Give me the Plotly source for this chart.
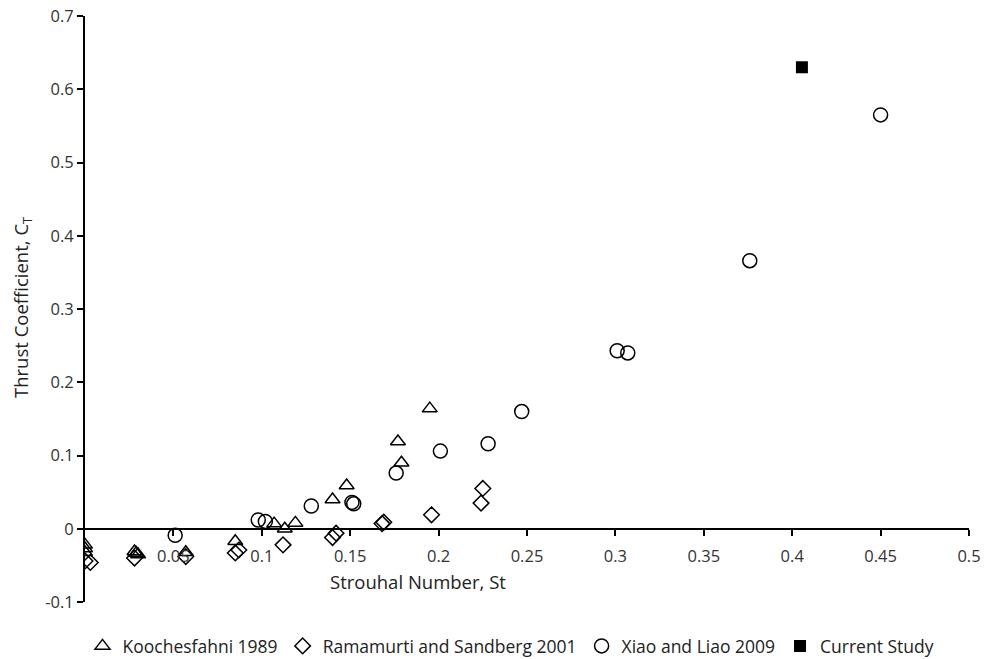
import plotly.graph_objects as go

# Data
koch_st = [0.0, 0.0, 0.0, 0.028, 0.029, 0.030, 0.057, 0.085, 0.107, 0.113, 0.119, 0.140, 0.148, 0.177, 0.179, 0.195]
koch_ct = [-0.022, -0.027, -0.032, -0.031, -0.033, -0.035, -0.032, -0.017, 0.007, 0.0, 0.008, 0.040, 0.059, 0.119, 0.090, 0.164]

rama_st = [0.0, 0.003, 0.028, 0.057, 0.085, 0.087, 0.112, 0.140, 0.142, 0.168, 0.169, 0.196, 0.224, 0.225]
rama_ct = [-0.044, -0.046, -0.040, -0.038, -0.033, -0.029, -0.022, -0.012, -0.006, 0.007, 0.009, 0.019, 0.035, 0.055]

xiao_st = [0.051, 0.098, 0.102, 0.128, 0.151, 0.152, 0.176, 0.201, 0.228, 0.247, 0.301, 0.307, 0.376, 0.450]
xiao_ct = [-0.009, 0.012, 0.010, 0.031, 0.036, 0.034, 0.076, 0.106, 0.116, 0.160, 0.243, 0.240, 0.366, 0.565]

current_st = [0.4055]
current_ct = [0.630]

x_tickvals = [0.05, 0.1, 0.15, 0.2, 0.25, 0.3, 0.35, 0.4, 0.45, 0.5]
x_ticktext = ["0.05", "0.1", "0.15", "0.2", "0.25", "0.3", "0.35", "0.4", "0.45", "0.5"]
y_tickvals = [-0.1, 0, 0.1, 0.2, 0.3, 0.4, 0.5, 0.6, 0.7]
y_ticktext = ["-0.1", "0", "0.1", "0.2", "0.3", "0.4", "0.5", "0.6", "0.7"]

FONT = "Open Sans"
W, H = 986, 659
ML, MR, MT, MB = 85, 17, 16, 57
pw, ph = W - ML - MR, H - MT - MB


def px_to_paper(xp, yp):
    return (xp - ML) / pw, (H - MB - yp) / ph


fig = go.Figure()
fig.add_trace(go.Scatter(x=koch_st, y=koch_ct, mode="markers", name="Koochesfahni 1989",
                         marker=dict(symbol="triangle-up-open", size=13, color="black", line=dict(width=1.5, color="black"))))
fig.add_trace(go.Scatter(x=rama_st, y=rama_ct, mode="markers", name="Ramamurti and Sandberg 2001",
                         marker=dict(symbol="diamond-open", size=12, color="black", line=dict(width=1.5, color="black"))))
fig.add_trace(go.Scatter(x=xiao_st, y=xiao_ct, mode="markers", name="Xiao and Liao 2009",
                         marker=dict(symbol="circle-open", size=14, color="black", line=dict(width=1.5, color="black"))))
fig.add_trace(go.Scatter(x=current_st, y=current_ct, mode="markers", name="Current Study",
                         marker=dict(symbol="square", size=12, color="black", line=dict(width=0))))

lx, ly = px_to_paper(511, 646)
tx, ty = px_to_paper(418, 581)
yx, yy = px_to_paper(22, 308)

fig.update_layout(
    width=W, height=H,
    margin=dict(l=ML, r=MR, t=MT, b=MB, autoexpand=False),
    plot_bgcolor="white", paper_bgcolor="white",
    font=dict(family=FONT, size=16, color="#222"),
    showlegend=True,
    legend=dict(orientation="h", x=lx, xanchor="center", y=ly, yanchor="middle",
                font=dict(family=FONT, size=17.5, color="#222"), itemwidth=30,
                bgcolor="rgba(0,0,0,0)"),
    xaxis=dict(range=[0, 0.5], anchor="free", position=0.125, showline=True, linecolor="black",
               linewidth=2, ticks="outside", ticklen=6, tickwidth=2, tickcolor="black",
               tickvals=x_tickvals, ticktext=x_ticktext, showgrid=False, zeroline=False,
               ticklabelstandoff=6, automargin=False, tickfont=dict(size=16.5, color="#333")),
    yaxis=dict(range=[-0.1, 0.7], showline=True, linecolor="black", linewidth=2,
               ticks="outside", ticklen=6, tickwidth=2, tickcolor="black",
               tickvals=y_tickvals, ticktext=y_ticktext, showgrid=False, zeroline=False,
               automargin=False, tickfont=dict(size=16.5, color="#333")),
    annotations=[
        dict(text="Strouhal Number, St", x=tx, y=ty, xref="paper", yref="paper",
             xanchor="center", yanchor="middle",
             showarrow=False, font=dict(size=18.5, color="#222")),
        dict(text="Thrust Coefficient, C<sub>T</sub>", x=yx, y=yy, xref="paper", yref="paper",
             xanchor="center", yanchor="middle",
             showarrow=False, textangle=-90, font=dict(size=18.5, color="#222")),
    ],
)

fig.write_html("out.html", config={"displayModeBar": False},
               post_script="document.body.style.margin='0';document.body.style.overflow='hidden';")
